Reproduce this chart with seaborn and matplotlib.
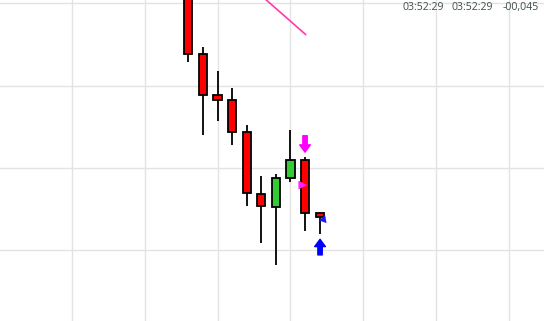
import matplotlib
matplotlib.use("Agg")
import matplotlib.pyplot as plt
import seaborn as sns
import numpy as np
import pandas as pd

# ---- data ----
idx    = [0, 1, 2, 3, 4, 5, 6, 7, 8, 9]
opens  = [1.08341, 1.08239, 1.08189, 1.08182, 1.08144, 1.08068, 1.08052, 1.08087, 1.08109, 1.08045]
highs  = [1.08353, 1.08247, 1.08218, 1.08197, 1.08152, 1.08090, 1.08093, 1.08146, 1.08113, 1.08046]
lows   = [1.08229, 1.08140, 1.08157, 1.08128, 1.08053, 1.08009, 1.07982, 1.08083, 1.08023, 1.08019]
closes = [1.08239, 1.08188, 1.08182, 1.08144, 1.08069, 1.08053, 1.08087, 1.08110, 1.08045, 1.08040]

trend_x = [4.0, 8.05]
trend_y = [1.08325, 1.08262]

sell_x, sell_tail, sell_tip = 8.0, 1.08139, 1.08119
buy_x, buy_tail, buy_tip = 9.03, 1.07994, 1.08013

mark_sell_x, mark_sell_y = [7.85], [1.08079]
mark_buy_x, mark_buy_y = [9.27], [1.08037]

header_texts = ["03:52:29", "03:52:29", "-00,045"]

grid_x = [-8, -3, 2, 7, 12, 17, 22]
grid_y = [1.0830, 1.0820, 1.0810, 1.0800]

df = pd.DataFrame({"i": idx, "o": opens, "h": highs, "l": lows, "c": closes})
df["up"] = df["c"] >= df["o"]

sns.set_style("white")
plt.rcParams['font.family'] = ['Open Sans', 'DejaVu Sans']

fig = plt.figure(figsize=(5.44, 3.21), dpi=100)
ax = fig.add_axes([0, 0, 1, 1])

for g in grid_x:
    ax.axvline(g, color="#e3e3e3", lw=1.0, zorder=0)
for g in grid_y:
    ax.axhline(g, color="#e3e3e3", lw=1.0, zorder=0)

# wicks
ax.vlines(df["i"], df["l"], df["h"], color="black", lw=1.3, zorder=2)
# bodies
colors = np.where(df["up"], "#33cc33", "#ff0000")
bottoms = np.minimum(df["o"], df["c"])
heights = np.abs(df["c"] - df["o"])
ax.bar(df["i"], heights, bottom=bottoms, width=0.56, color=colors,
       edgecolor="black", linewidth=1.3, zorder=3)

# trend line
sns.lineplot(x=trend_x, y=trend_y, ax=ax, color="#ff3aad", lw=1.2, zorder=4)

# signal arrows
style = "simple,head_width=1.1,head_length=0.75,tail_width=0.45"
ax.annotate("", xy=(sell_x, sell_tip), xytext=(sell_x, sell_tail),
            arrowprops=dict(arrowstyle=style, color="#ff00ff", mutation_scale=7,
                            shrinkA=0, shrinkB=0), zorder=5)
ax.annotate("", xy=(buy_x, buy_tip), xytext=(buy_x, buy_tail),
            arrowprops=dict(arrowstyle=style, color="#0000ff", mutation_scale=7,
                            shrinkA=0, shrinkB=0), zorder=5)

sns.scatterplot(x=mark_sell_x, y=mark_sell_y, ax=ax, marker=">", s=40, color="#ff22ff",
                edgecolor="none", zorder=6)
sns.scatterplot(x=mark_buy_x, y=mark_buy_y, ax=ax, marker=(3, 0, 100), s=45, color="#1a1aff",
                edgecolor="none", zorder=6)

ax.set_xlim(-12.92, 24.39)
ax.set_ylim(1.079136, 1.083041)
ax.set_xticks([]); ax.set_yticks([])
for s in ax.spines.values():
    s.set_visible(False)

# header texts (right edges)
xs_px = [444, 493, 539]
for t, xp in zip(header_texts, xs_px):
    fig.text(xp / 544, 1 - 7.5 / 321, t, fontsize=7.6, color="#3f4c4c",
             ha="right", va="center")

fig.savefig("out.png", dpi=100)
